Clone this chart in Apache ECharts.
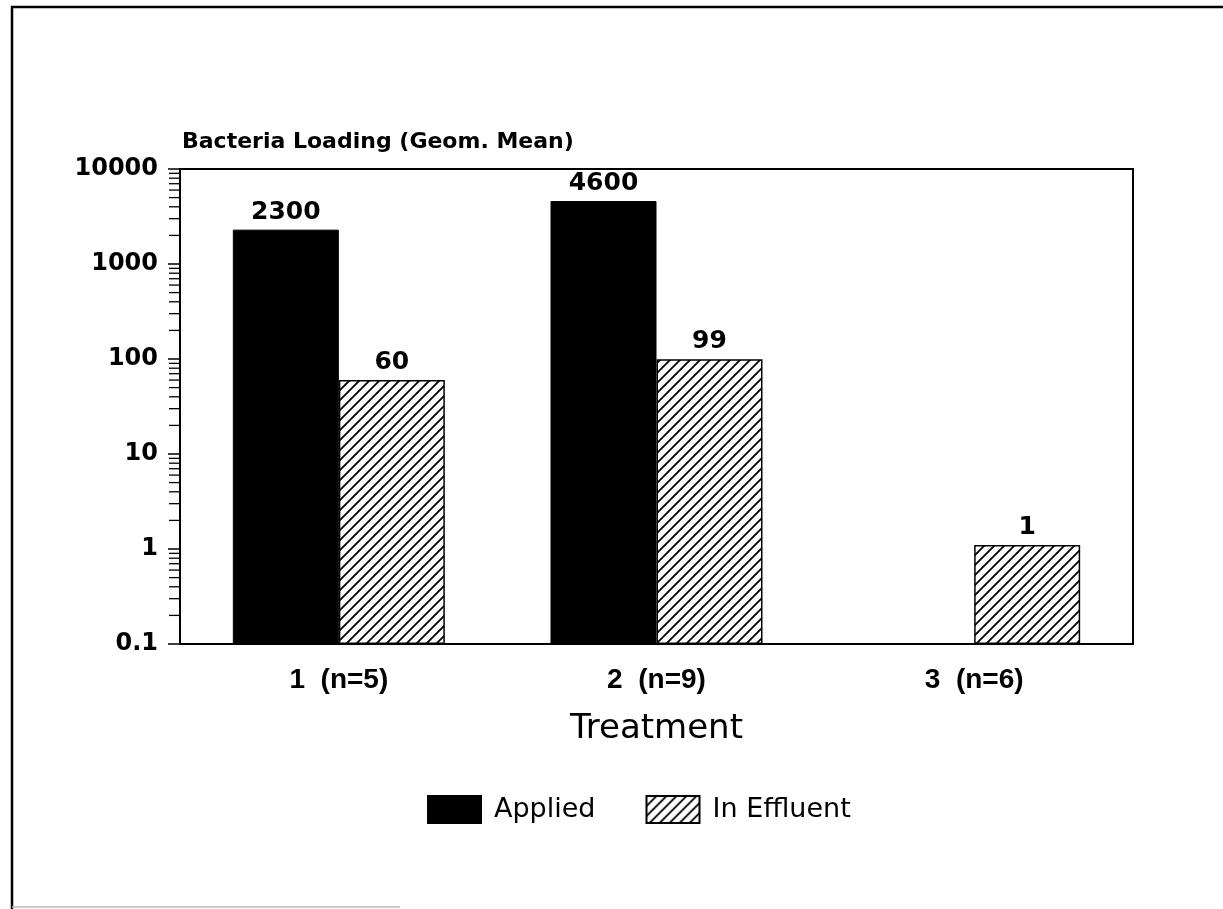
<!DOCTYPE html>
<html>
<head>
<meta charset="utf-8">
<script src="https://cdn.jsdelivr.net/npm/echarts@6/dist/echarts.min.js"></script>
<style>
html,body{margin:0;padding:0;background:#fff;}
#chart{width:1223px;height:909px;}
</style>
</head>
<body>
<div id="chart"></div>
<script>
// ---- data ----
const categories = ['1  (n=5)', '2  (n=9)', '3  (n=6)'];
const appliedValues = [2300, 4600, null];
const effluentValues = [60, 99, 1];
const seriesNames = ['Applied', 'In Effluent'];
const axisFloor = 0.1;
const yTickValues = [0.1, 1, 10, 100, 1000, 10000];
const yTickLabels = ['0.1', '1', '10', '100', '1000', '10000'];
const minorTickValues = [
  0.2, 0.3, 0.4, 0.5, 0.6, 0.7, 0.8, 0.9,
  2, 3, 4, 5, 6, 7, 8, 9,
  20, 30, 40, 50, 60, 70, 80, 90,
  200, 300, 400, 500, 600, 700, 800, 900,
  2000, 3000, 4000, 5000, 6000, 7000, 8000, 9000
];
const yTitle = 'Bacteria Loading (Geom. Mean)';
const xTitle = 'Treatment';

// hatch pattern
function makeHatch() {
  const s = 10;
  const c = document.createElement('canvas');
  c.width = s; c.height = s;
  const ctx = c.getContext('2d');
  ctx.fillStyle = '#fff';
  ctx.fillRect(0, 0, s, s);
  ctx.strokeStyle = '#000';
  ctx.lineWidth = 1.8;
  ctx.beginPath();
  ctx.moveTo(0, s); ctx.lineTo(s, 0);
  ctx.moveTo(-2, 2); ctx.lineTo(2, -2);
  ctx.moveTo(s - 2, s + 2); ctx.lineTo(s + 2, s - 2);
  ctx.stroke();
  return c;
}
const hatch = { image: makeHatch(), repeat: 'repeat' };

function yLabel(v) {
  for (let i = 0; i < yTickValues.length; i++) {
    if (Math.abs(Math.log10(v) - Math.log10(yTickValues[i])) < 1e-6) return yTickLabels[i];
  }
  return '';
}

const chart = echarts.init(document.getElementById('chart'), null, { renderer: 'canvas' });
const labelStyle = {
  show: true, position: 'top', distance: 5,
  fontFamily: 'DejaVu Sans', fontWeight: 'bold', fontSize: 25, color: '#000',
  formatter: p => (p.value == null ? '' : String(p.value))
};
const baseData = categories.map(() => axisFloor);

chart.setOption({
  animation: false,
  backgroundColor: '#fff',
  title: {
    text: yTitle, left: 177, top: 126,
    textStyle: { fontFamily: 'DejaVu Sans', fontWeight: 'bold', fontSize: 22, color: '#000' }
  },
  grid: {
    left: 180, right: 90, top: 169, bottom: 265,
    show: true, borderColor: '#000', borderWidth: 2, backgroundColor: 'transparent'
  },
  legend: {
    data: seriesNames, left: 422, top: 790, icon: 'rect',
    itemWidth: 53, itemHeight: 27, itemGap: 50,
    textStyle: { fontFamily: 'DejaVu Sans', fontSize: 27, color: '#000', padding: [0, 0, 0, 8] }
  },
  xAxis: {
    type: 'category', data: categories,
    name: xTitle, nameLocation: 'middle', nameGap: 68,
    nameTextStyle: { fontFamily: 'DejaVu Sans', fontSize: 34, color: '#000' },
    axisLine: { lineStyle: { color: '#000', width: 2 } },
    axisTick: { alignWithLabel: true, length: 13, lineStyle: { color: '#000', width: 1.5 } },
    axisLabel: { margin: 22, fontFamily: 'Liberation Sans', fontWeight: 'bold', fontSize: 28, color: '#000' }
  },
  yAxis: {
    type: 'log', logBase: 10, min: 0.1, max: 10000,
    axisLine: { show: true, lineStyle: { color: '#000', width: 2 } },
    axisTick: { show: true, length: 12, lineStyle: { color: '#000', width: 1.5 } },
    splitLine: { show: false },
    axisLabel: { margin: 22, fontFamily: 'DejaVu Sans', fontWeight: 'bold', fontSize: 24, color: '#000', formatter: yLabel }
  },
  series: [
    {
      name: 'baseA', type: 'bar', stack: 'a', data: baseData, silent: true,
      barWidth: 106, barGap: '0%',
      itemStyle: { color: 'rgba(0,0,0,0)' }, label: { show: false }
    },
    {
      name: seriesNames[0], type: 'bar', stack: 'a', data: appliedValues,
      barWidth: 106, barGap: '0%',
      itemStyle: { color: '#000', borderColor: '#000', borderWidth: 1 },
      label: labelStyle
    },
    {
      name: 'baseB', type: 'bar', stack: 'b', data: baseData, silent: true,
      barWidth: 106, barGap: '0%',
      itemStyle: { color: 'rgba(0,0,0,0)' }, label: { show: false }
    },
    {
      name: seriesNames[1], type: 'bar', stack: 'b', data: effluentValues,
      barWidth: 106, barGap: '0%',
      itemStyle: { color: hatch, borderColor: '#000', borderWidth: 1.5 },
      label: labelStyle
    },
    {
      name: 'minor', type: 'custom', silent: true, z: 5,
      data: minorTickValues.map(v => [0, v]),
      encode: { x: 0, y: 1 },
      renderItem: function (params, api) {
        const y = api.coord([0, api.value(1)])[1];
        const x0 = params.coordSys.x;
        return {
          type: 'line',
          shape: { x1: x0 - 11, y1: y, x2: x0, y2: y },
          style: { stroke: '#000', lineWidth: 1.3 }
        };
      }
    }
  ],
  graphic: [
    { type: 'polyline', shape: { points: [[12, 909], [12, 7], [1223, 7]] }, style: { stroke: '#000', lineWidth: 2.5, fill: null } },
    { type: 'line', shape: { x1: 12, y1: 907, x2: 400, y2: 907 }, style: { stroke: '#bbb', lineWidth: 1.5 } }
  ]
});
</script>
</body>
</html>
